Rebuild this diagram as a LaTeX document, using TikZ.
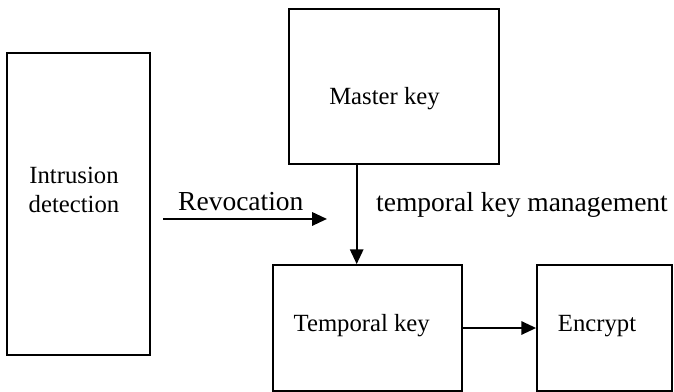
\documentclass[tikz,border=0pt]{standalone}
\usepackage{fontspec}
\setmainfont{Liberation Serif}
\usetikzlibrary{arrows.meta}

\begin{document}
\begin{tikzpicture}[>={Triangle[length=3.9mm,width=3.5mm]},line cap=rect,
  box/.style={draw,line width=1.3pt,inner sep=0pt},
  lbl/.style={font=\fontsize{18.6}{22}\selectfont,inner sep=0pt},
  note/.style={font=\fontsize{20.7}{24}\selectfont,inner sep=0pt},
  flow/.style={->,line width=1.6pt}]
\useasboundingbox (0,0) rectangle (17.834,10.372);
\node[box,minimum width=3.784cm,minimum height=7.991cm] (intrusion) at (2.077,4.974) {};
\node[box,minimum width=5.557cm,minimum height=4.101cm] (master) at (10.425,8.083) {};
\node[box,minimum width=5.001cm,minimum height=3.334cm] (temporal) at (9.724,1.693) {};
\node[box,minimum width=3.572cm,minimum height=3.334cm] (encrypt) at (15.995,1.693) {};
\node[lbl,align=center] (intrusiontext) at (1.958,5.345) {Intrusion\\detection};
\node[lbl,anchor=base] (mastertext) at (10.174,7.594) {Master key};
\node[lbl,anchor=base] (temporaltext) at (9.571,1.596) {Temporal key};
\node[lbl,anchor=base] (encrypttext) at (15.797,1.596) {Encrypt};
\node[note,anchor=base] (revocation) at (6.372,4.797) {Revocation};
\node[note,anchor=base] (management) at (13.812,4.763) {temporal key management};
\coordinate (revstart) at (4.339,4.578);
\coordinate (revend) at (8.652,4.578);
\coordinate (keyline) at (9.438,0);
\draw[flow] (revstart) -- (revend);
\draw[flow] (keyline |- master.south) -- (keyline |- temporal.north);
\draw[flow] (temporal.east) -- (encrypt.west);
\end{tikzpicture}
\end{document}
